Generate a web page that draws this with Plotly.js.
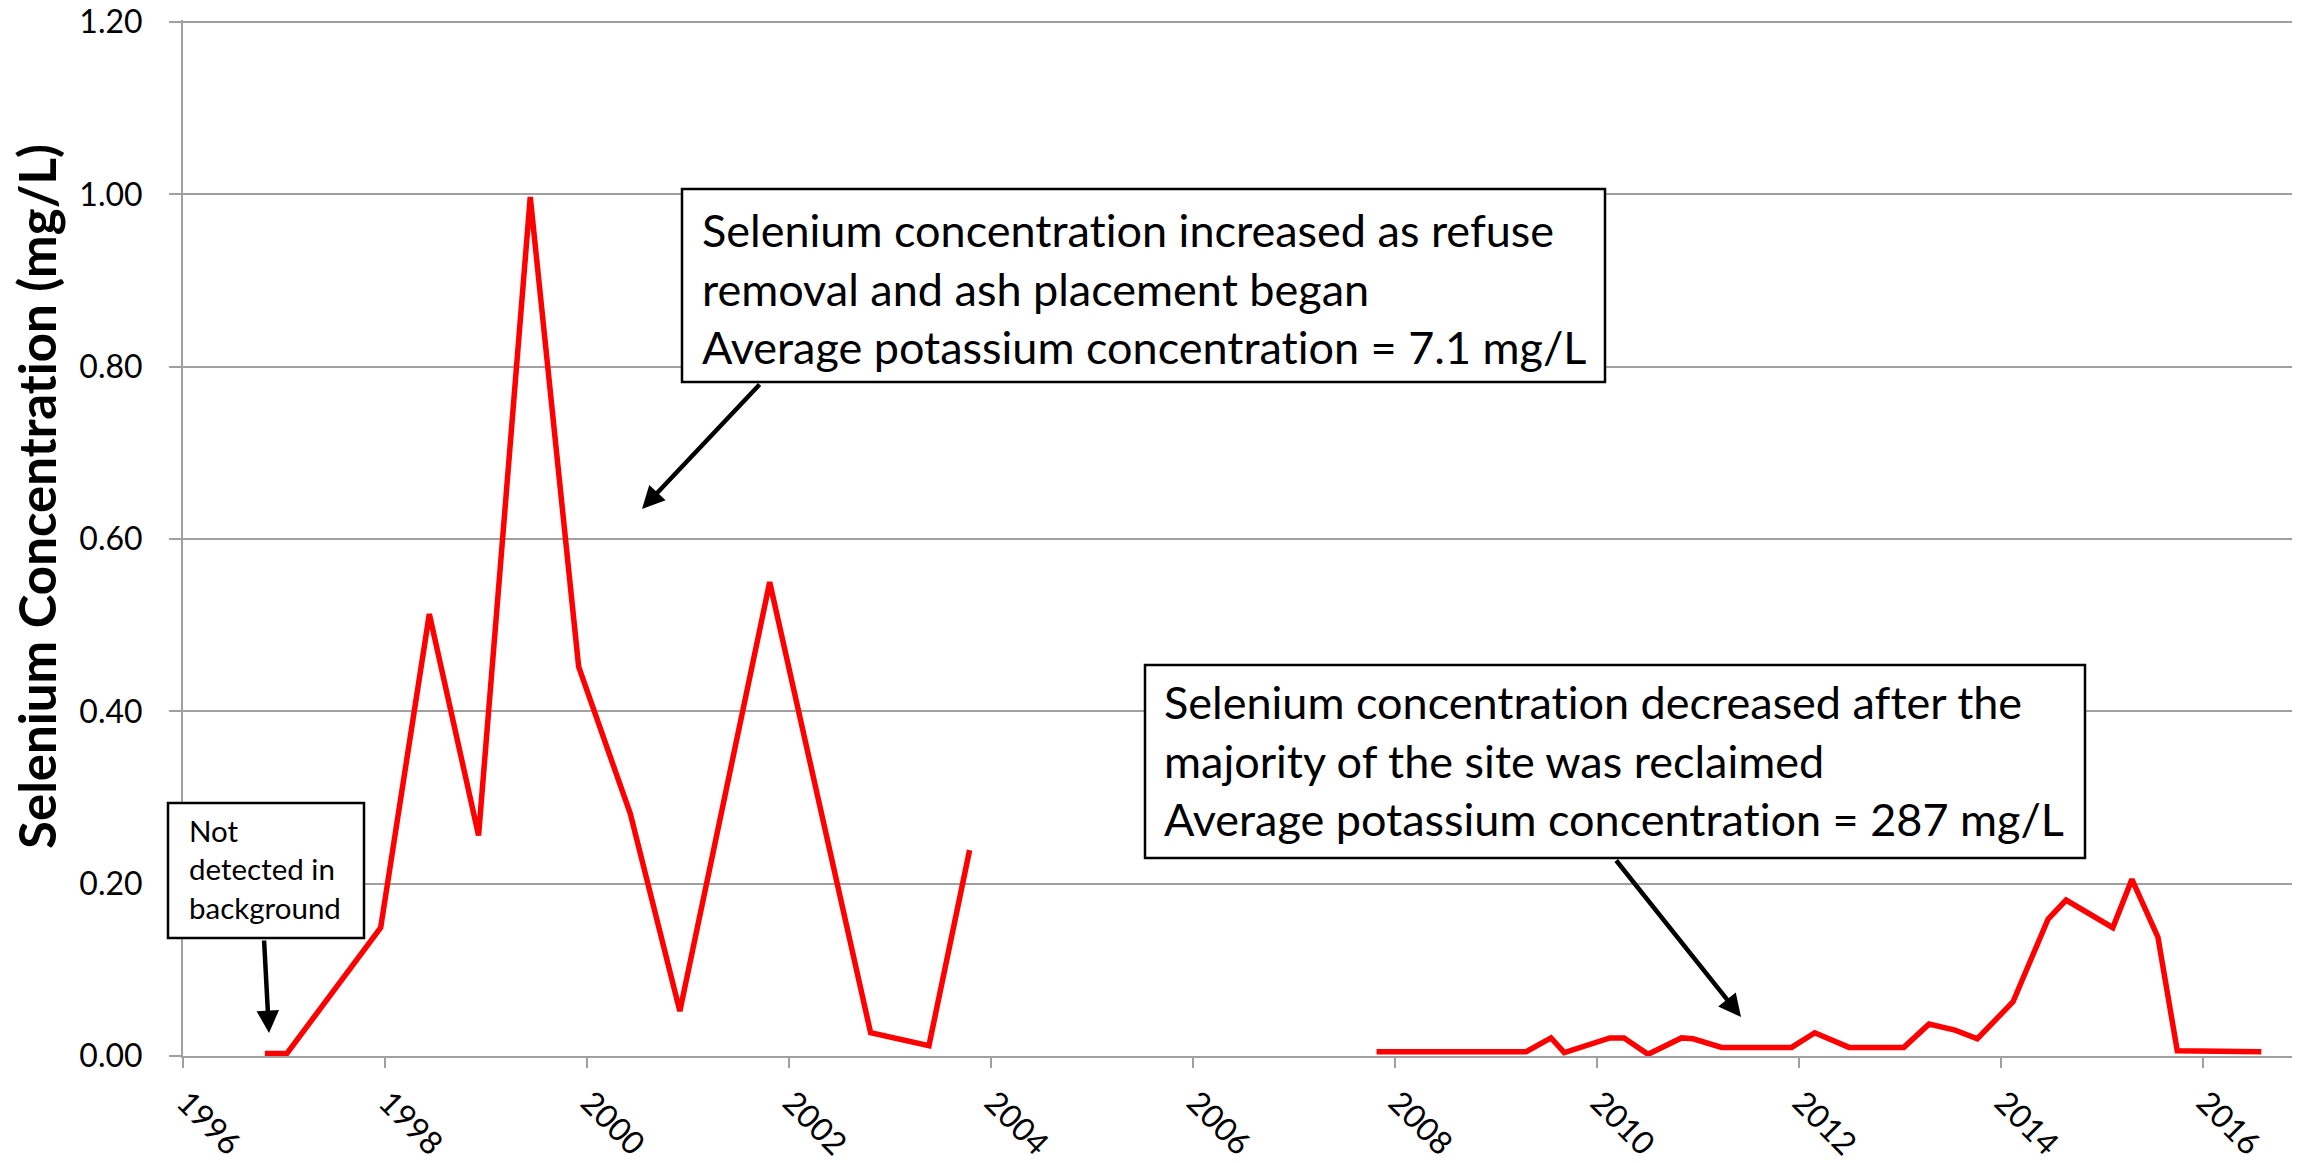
<!DOCTYPE html>
<html>
<head>
<meta charset="utf-8">
<script src="https://cdn.plot.ly/plotly-3.0.1.min.js"></script>
<style>
  html, body { margin: 0; padding: 0; background: #fff; }
  #chart { width: 2310px; height: 1163px; }
  svg text { font-variant-ligatures: none; font-feature-settings: "liga" 0, "clig" 0, "dlig" 0; }
</style>
</head>
<body>
<div id="chart"></div>
<script>
// ---- Data ----
const sampleDates = [
  '1996-10-23', '1997-01-11', '1997-12-16', '1998-06-10', '1998-12-05',
  '1999-06-10', '1999-12-02', '2000-06-06', '2000-12-02', '2001-10-23',
  '2002-10-23', '2003-05-22', '2003-10-16',
  '2005-09-01',
  '2007-10-27', '2009-04-20', '2009-07-19', '2009-09-05', '2010-02-17',
  '2010-04-09', '2010-07-05', '2010-11-03', '2010-12-15', '2011-03-28',
  '2011-12-06', '2012-02-28', '2012-07-01', '2013-01-15', '2013-04-16',
  '2013-07-19', '2013-10-08', '2014-02-14', '2014-06-21', '2014-08-25',
  '2015-02-10', '2015-04-20', '2015-07-23', '2015-10-01', '2016-07-31'
];
const seleniumMgL = [
  0.003, 0.003, 0.149, 0.513, 0.256,
  0.997, 0.452, 0.281, 0.052, 0.550,
  0.027, 0.012, 0.239,
  null,
  0.005, 0.005, 0.021, 0.004, 0.021,
  0.021, 0.002, 0.021, 0.020, 0.010,
  0.010, 0.027, 0.010, 0.010, 0.037,
  0.030, 0.020, 0.063, 0.159, 0.181,
  0.149, 0.205, 0.138, 0.006, 0.005
];
const yTickVals = [0, 0.2, 0.4, 0.6, 0.8, 1.0, 1.2];
const yTitle = 'Selenium Concentration (mg/L)';
const note1 = ['Selenium concentration increased as refuse',
               'removal and ash placement began',
               'Average potassium concentration = 7.1 mg/L'];
const note2 = ['Selenium concentration decreased after the',
               'majority of the site was reclaimed',
               'Average potassium concentration = 287 mg/L'];
const note3 = ['Not', 'detected in', 'background'];

// ---- Layout helpers (pixel -> paper) ----
const W = 2310, H = 1163;
const M = { l: 183, r: 18, t: 20, b: 107 };
const PW = W - M.l - M.r, PH = H - M.t - M.b;
const px = X => (X - M.l) / PW;
const py = Y => (H - M.b - Y) / PH;

const FONT = 'Lato, "Open Sans", sans-serif';
const GRID = '#A0A0A0';

function box(x0, y0, x1, y1) {
  return { type: 'rect', xref: 'paper', yref: 'paper', layer: 'above',
    x0: px(x0), x1: px(x1), y0: py(y1), y1: py(y0),
    fillcolor: '#ffffff', line: { color: '#000000', width: 2.5 } };
}
function note(lines, X, Y, size) {
  return { xref: 'paper', yref: 'paper', x: px(X), y: py(Y),
    xanchor: 'left', yanchor: 'top', align: 'left', showarrow: false,
    text: lines.join('<br>'), font: { family: FONT, size: size, color: '#000' } };
}
function arrow(tx, ty, hx, hy) {
  return { xref: 'paper', yref: 'paper', x: px(hx), y: py(hy),
    ax: tx - hx, ay: ty - hy, axref: 'pixel', ayref: 'pixel',
    text: '', showarrow: true, arrowhead: 2, arrowsize: 1.0, arrowwidth: 4.5,
    arrowcolor: '#000', standoff: 0, startstandoff: 0 };
}

const trace = {
  type: 'scatter', mode: 'lines',
  x: sampleDates, y: seleniumMgL,
  connectgaps: false,
  line: { color: '#FF0000', width: 5.5 },
  hoverinfo: 'x+y'
};

const layout = {
  width: W, height: H,
  margin: M,
  paper_bgcolor: '#fff', plot_bgcolor: '#fff',
  showlegend: false,
  font: { family: FONT, color: '#000' },
  xaxis: {
    type: 'date',
    range: ['1996-01-01', '2016-11-19'],
    tick0: '1996-01-01', dtick: 'M24', tickformat: '%Y',
    tickangle: 45,
    ticks: 'outside', ticklen: 10, tickwidth: 2, tickcolor: GRID,
    showline: true, linecolor: GRID, linewidth: 2,
    showgrid: false, zeroline: false,
    tickfont: { family: FONT, size: 32, color: '#000' },
    ticklabelstandoff: 3, ticklabelshift: 3,
    ticklabeloverflow: 'allow'
  },
  yaxis: {
    range: [0, 1.2025],
    tickvals: yTickVals, tickformat: '.2f',
    ticks: 'outside', ticklen: 12, tickwidth: 2, tickcolor: GRID,
    showline: true, linecolor: GRID, linewidth: 2,
    showgrid: true, gridcolor: GRID, gridwidth: 2,
    zeroline: false,
    tickfont: { family: FONT, size: 32, color: '#000' },
    ticklabelstandoff: 20,
    ticklabeloverflow: 'allow'
  },
  shapes: [
    box(682, 189, 1605, 382),
    box(1145, 665, 2085, 858),
    box(168, 803, 364, 938)
  ],
  annotations: [
    { xref: 'paper', yref: 'paper', x: px(36), y: py(497),
      xanchor: 'center', yanchor: 'middle', textangle: -90, showarrow: false,
      text: '<b>' + yTitle + '</b>', font: { family: FONT, size: 51, color: '#000' } },
    note(note1, 700, 201, 45),
    note(note2, 1162, 673, 45),
    note(note3, 187, 811, 29.5),
    arrow(761, 383, 642, 509),
    arrow(1615, 859, 1741, 1017),
    arrow(264, 939, 269, 1033)
  ]
};

Plotly.newPlot('chart', [trace], layout, { staticPlot: true, displayModeBar: false });
</script>
</body>
</html>
